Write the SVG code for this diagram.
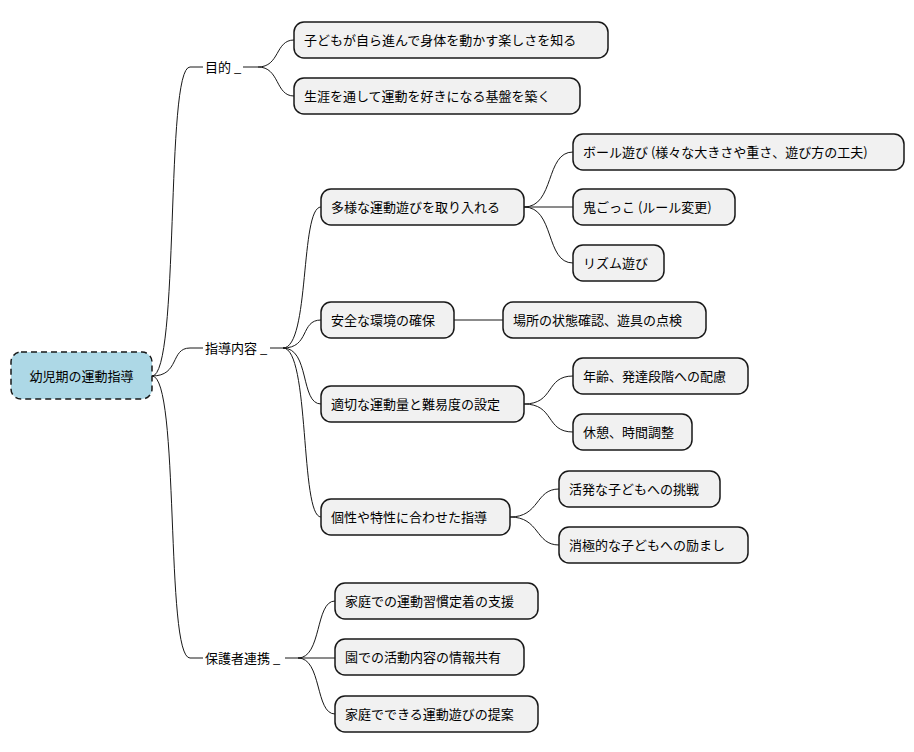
<svg xmlns="http://www.w3.org/2000/svg" width="914" height="752" viewBox="0 0 914 752">
<style>
text{font-family:"Noto Sans CJK JP","Noto Sans",sans-serif;font-size:13px;fill:#000}
.b{fill:#f1f1f1;stroke:#181818;stroke-width:1.5}
.c{fill:none;stroke:#181818;stroke-width:1}
</style>
<rect width="914" height="752" fill="#fff"/>
<g id="connectors" class="c">
<path d="M152,376 C180,376 165,67 190,67"/>
<path d="M152,376 C180,376 170,348 190,348"/>
<path d="M152,376 C180,376 165,658 190,658"/>
<path d="M190,67 H203 M243,67 H258"/>
<path d="M190,348 H203 M270,348 H283"/>
<path d="M190,658 H203 M285,658 H298"/>
<path d="M258,67 C280,67 275,40 294,40"/>
<path d="M258,67 C280,67 275,96 294,96"/>
<path d="M283,348 C310,348 300,207 321,207"/>
<path d="M283,348 C310,348 300,320 321,320"/>
<path d="M283,348 C310,348 300,404 321,404"/>
<path d="M283,348 C310,348 300,517 321,517"/>
<path d="M298,658 C322,658 315,601 335,601"/>
<path d="M298,658 H335"/>
<path d="M298,658 C322,658 315,714 335,714"/>
<path d="M524,207 C555,207 545,152 573,152"/>
<path d="M524,207 H573"/>
<path d="M524,207 C555,207 545,263 573,263"/>
<path d="M454,320 H503"/>
<path d="M524,404 C555,404 545,376 573,376"/>
<path d="M524,404 C555,404 545,432 573,432"/>
<path d="M510,517 C540,517 535,489 559,489"/>
<path d="M510,517 C540,517 535,545 559,545"/>
</g>
<g id="root"><rect x="11" y="352" width="141" height="47" rx="10" fill="#add8e6" stroke="#181818" stroke-width="1.5" stroke-dasharray="6,4"/><text x="81.5" y="381" text-anchor="middle">幼児期の運動指導</text></g>
<g id="l1a"><text x="205" y="72">目的 _</text></g>
<g id="l1b"><text x="205" y="353">指導内容 _</text></g>
<g id="l1c"><text x="205" y="663">保護者連携 _</text></g>
<g id="n1"><rect class="b" x="294" y="22" width="314" height="36" rx="10"/><text x="304" y="45">子どもが自ら進んで身体を動かす楽しさを知る</text></g>
<g id="n2"><rect class="b" x="294" y="78" width="286" height="36" rx="10"/><text x="304" y="101">生涯を通して運動を好きになる基盤を築く</text></g>
<g id="n3"><rect class="b" x="321" y="189" width="203" height="36" rx="10"/><text x="331" y="212">多様な運動遊びを取り入れる</text></g>
<g id="n4"><rect class="b" x="321" y="302" width="133" height="36" rx="10"/><text x="331" y="325">安全な環境の確保</text></g>
<g id="n5"><rect class="b" x="321" y="386" width="203" height="36" rx="10"/><text x="331" y="409">適切な運動量と難易度の設定</text></g>
<g id="n6"><rect class="b" x="321" y="499" width="189" height="36" rx="10"/><text x="331" y="522">個性や特性に合わせた指導</text></g>
<g id="n7"><rect class="b" x="573" y="134" width="331" height="36" rx="10"/><text x="583" y="157">ボール遊び (様々な大きさや重さ、遊び方の工夫)</text></g>
<g id="n8"><rect class="b" x="573" y="189" width="162" height="36" rx="10"/><text x="583" y="212">鬼ごっこ (ルール変更)</text></g>
<g id="n9"><rect class="b" x="573" y="245" width="91" height="36" rx="10"/><text x="583" y="268">リズム遊び</text></g>
<g id="n10"><rect class="b" x="503" y="302" width="203" height="36" rx="10"/><text x="513" y="325">場所の状態確認、遊具の点検</text></g>
<g id="n11"><rect class="b" x="573" y="358" width="175" height="36" rx="10"/><text x="583" y="381">年齢、発達段階への配慮</text></g>
<g id="n12"><rect class="b" x="573" y="414" width="119" height="36" rx="10"/><text x="583" y="437">休憩、時間調整</text></g>
<g id="n13"><rect class="b" x="559" y="471" width="161" height="36" rx="10"/><text x="569" y="494">活発な子どもへの挑戦</text></g>
<g id="n14"><rect class="b" x="559" y="527" width="189" height="36" rx="10"/><text x="569" y="550">消極的な子どもへの励まし</text></g>
<g id="n15"><rect class="b" x="335" y="583" width="203" height="36" rx="10"/><text x="345" y="606">家庭での運動習慣定着の支援</text></g>
<g id="n16"><rect class="b" x="335" y="639" width="189" height="36" rx="10"/><text x="345" y="662">園での活動内容の情報共有</text></g>
<g id="n17"><rect class="b" x="335" y="696" width="203" height="36" rx="10"/><text x="345" y="719">家庭でできる運動遊びの提案</text></g>
</svg>
